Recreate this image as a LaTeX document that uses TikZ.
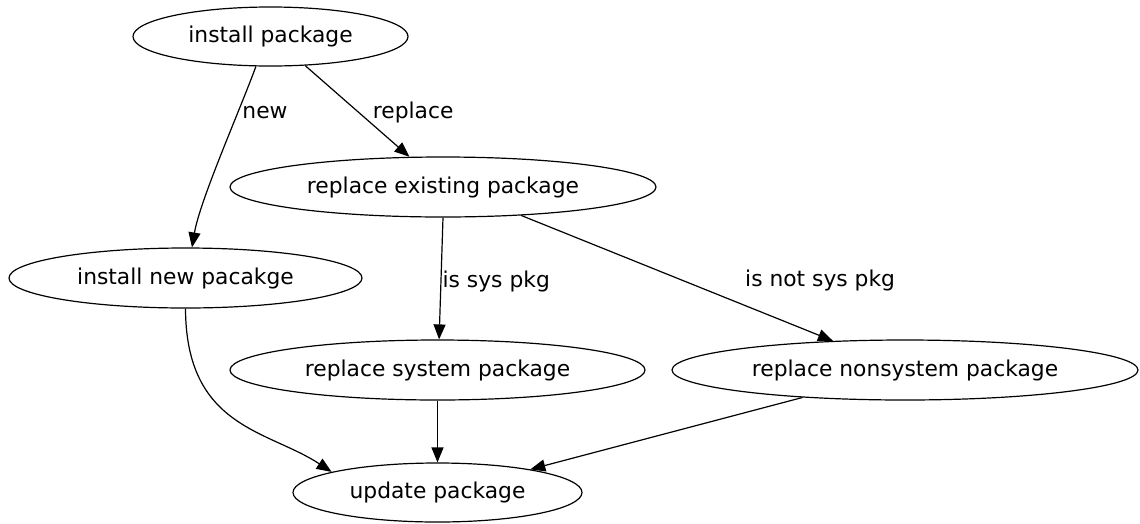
\documentclass[tikz,border=0pt]{standalone}
\usepackage{fontspec}
\setmainfont{DejaVu Sans}
\usepackage{tikz}
\usetikzlibrary{shapes.geometric, arrows.meta}
\tikzstyle{state} = [ellipse, draw=black, line width=1.2pt, inner sep=0pt, text centered, text height=17.5pt, text depth=5pt, font=\fontsize{21.8}{26}\selectfont]
\tikzstyle{arrow} = [line width=1.2pt, -{Triangle[length=15pt, width=12pt]}]
\tikzstyle{lbl} = [font=\fontsize{21.8}{26}\selectfont, inner sep=1pt, yshift=-2.5pt]

\begin{document}
\begin{tikzpicture}[x=1pt, y=-1pt]
        \useasboundingbox (0,0) rectangle (1140,523);

        % Nodes
        \node (install) [state, minimum width=275pt, minimum height=59pt] at (270.5,36.5) {install package};
        \node (replace) [state, minimum width=426pt, minimum height=60pt] at (443,187) {replace existing package};
        \node (new) [state, minimum width=353pt, minimum height=60pt] at (185.5,278) {install new pacakge};
        \node (sys) [state, minimum width=415pt, minimum height=60pt] at (437.5,370) {replace system package};
        \node (nonsys) [state, minimum width=466pt, minimum height=60pt] at (905,370) {replace nonsystem package};
        \node (update) [state, minimum width=289pt, minimum height=59pt] at (437.5,492.5) {update package};

        % Arrows
        \draw [arrow] (install.244) .. controls (240,110) and (200,200) .. node[lbl, pos=0.27, anchor=west, xshift=2pt] {new} (new.78);
        \draw [arrow] (install.320) -- node[lbl, pos=0.49, anchor=west, xshift=15pt] {replace} (replace.138);
        \draw [arrow] (replace.270) -- node[lbl, pos=0.5, anchor=west] {is sys pkg} (sys.87);
        \draw [arrow] (replace.340) -- node[lbl, pos=0.5, xshift=143pt] {is not sys pkg} (nonsys.158);
        \draw [arrow] (new.270) .. controls (186,428) and (268,430) .. (update.169);
        \draw [arrow] (sys.270) -- (update.90);
        \draw [arrow] (nonsys.195) -- (update.14);
    \end{tikzpicture}
\end{document}
